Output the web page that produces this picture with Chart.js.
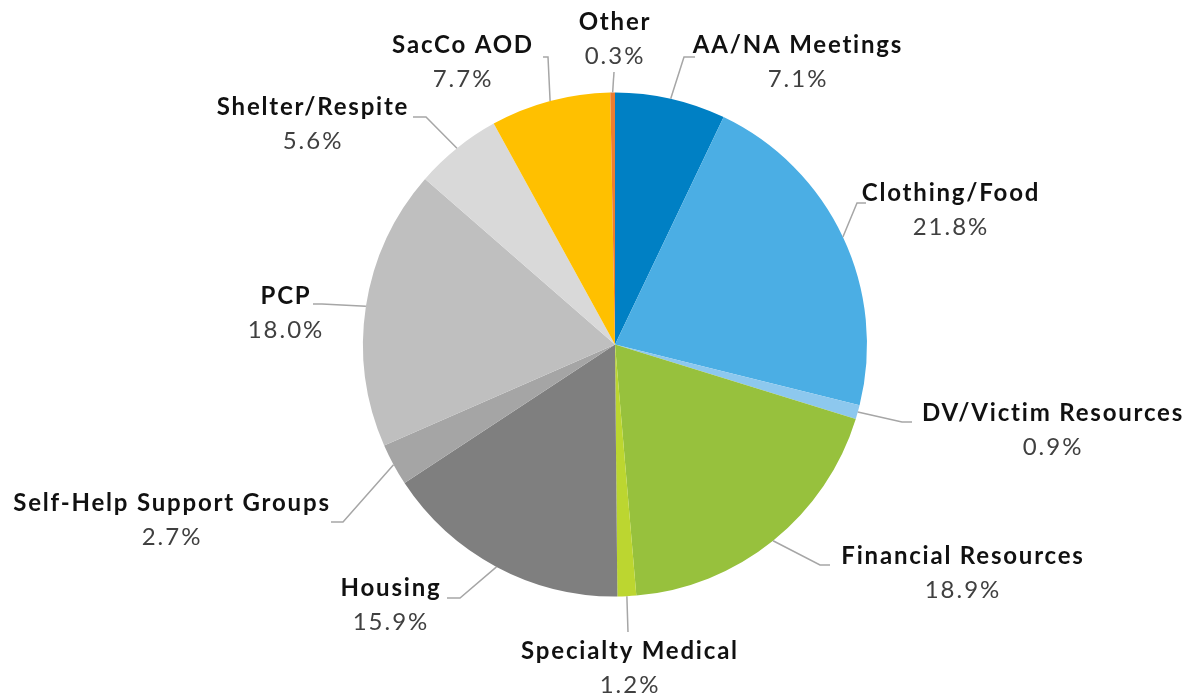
<!DOCTYPE html>
<html>
<head>
<meta charset="utf-8">
<script src="https://cdn.jsdelivr.net/npm/chart.js@4"></script>
<style>
  html, body { margin: 0; padding: 0; background: #fff; }
  #wrap { width: 1191px; height: 694px; }
</style>
</head>
<body>
<div id="wrap"><canvas id="c" width="1191" height="694"></canvas></div>
<script>
// data, clockwise from 12 o'clock
const categories = ['AA/NA Meetings', 'Clothing/Food', 'DV/Victim Resources', 'Financial Resources',
  'Specialty Medical', 'Housing', 'Self-Help Support Groups', 'PCP', 'Shelter/Respite', 'SacCo AOD', 'Other'];
const shares = [7.1, 21.8, 0.9, 18.9, 1.2, 15.9, 2.7, 18.0, 5.6, 7.7, 0.3];
const percentLabels = ['7.1%', '21.8%', '0.9%', '18.9%', '1.2%', '15.9%', '2.7%', '18.0%', '5.6%', '7.7%', '0.3%'];
const sliceColors = ['#0080C4', '#4BAEE4', '#8DC8EE', '#97C13D', '#BCD630', '#7F7F7F',
  '#A5A5A5', '#BFBFBF', '#D9D9D9', '#FFC000', '#ED7D31'];

// label placement: [text centre x, name y, elbow x, elbow y, line end x]
const labelSpots = [
  [797, 45, 684, 57, 695],
  [950, 193, 857, 203, 866],
  [1052, 413, 902, 422, 912],
  [962, 556, 820, 565, 830],
  [629, 651, 628, 632, 628],
  [390, 588, 460, 598, 447],
  [171, 503, 343, 522, 331],
  [285, 296, 322, 304, 313],
  [312, 107, 426, 117, 413],
  [462, 45, 548, 57, 543],
  [614, 22, 614, 72, 614]
];

const leaderLabels = {
  id: 'leaderLabels',
  afterDraw(chart) {
    const ctx = chart.ctx;
    const arcs = chart.getDatasetMeta(0).data;
    ctx.save();
    arcs.forEach((arc, i) => {
      const mid = (arc.startAngle + arc.endAngle) / 2;
      const sx = arc.x + Math.cos(mid) * arc.outerRadius;
      const sy = arc.y + Math.sin(mid) * arc.outerRadius;
      const [tx, ty, ex, ey, endX] = labelSpots[i];
      ctx.strokeStyle = '#A6A6A6';
      ctx.lineWidth = 1.5;
      ctx.beginPath();
      ctx.moveTo(sx, sy);
      ctx.lineTo(ex, ey);
      ctx.lineTo(endX, ey);
      ctx.stroke();

      ctx.textAlign = 'center';
      ctx.textBaseline = 'middle';
      ctx.letterSpacing = '1.8px';
      ctx.fillStyle = '#111';
      ctx.font = 'bold 24px Lato';
      ctx.fillText(categories[i], tx + 1, ty);
      ctx.fillStyle = '#404040';
      ctx.letterSpacing = '2px';
      ctx.font = '24px Lato';
      ctx.fillText(percentLabels[i], tx + 1, ty + 34);
    });
    ctx.restore();
  }
};

new Chart(document.getElementById('c'), {
  type: 'pie',
  data: {
    labels: categories,
    datasets: [{
      data: shares,
      backgroundColor: sliceColors,
      borderWidth: 0
    }]
  },
  options: {
    responsive: false,
    animation: false,
    layout: { padding: { top: 92, bottom: 97, left: 363, right: 324 } },
    plugins: {
      legend: { display: false },
      tooltip: { enabled: false }
    }
  },
  plugins: [leaderLabels]
});
</script>
</body>
</html>
